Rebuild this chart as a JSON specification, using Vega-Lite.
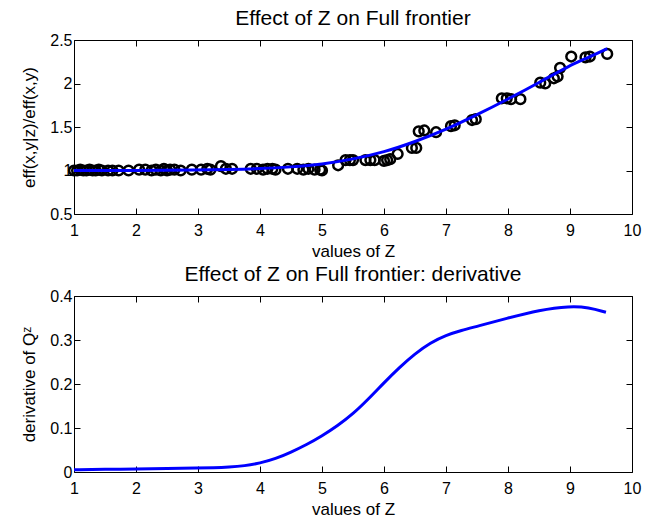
{
  "$schema": "https://vega.github.io/schema/vega-lite/v6.json",
  "background": "white",
  "padding": {"left": 20, "top": 7, "right": 10, "bottom": 2},
  "spacing": 3,
  "config": {
    "font": "Liberation Sans",
    "view": {"stroke": "black", "strokeWidth": 1},
    "axis": {
      "grid": false,
      "domain": false,
      "tickColor": "black",
      "tickSize": -6,
      "labelColor": "black",
      "labelFontSize": 16,
      "labelPadding": 8,
      "labelFlush": false,
      "labelOverlap": false,
      "titleFontSize": 17,
      "titleFontWeight": "normal",
      "titleColor": "black"
    },
    "axisX": {"labelPadding": 14, "titlePadding": 5},
    "axisY": {"titlePadding": 11},
    "title": {"fontSize": 21, "fontWeight": "normal", "color": "black", "offset": 3}
  },
  "datasets": {
    "pts": [
      {"z": 1.0, "eff": 1.0}, {"z": 1.05, "eff": 1.0}, {"z": 1.1, "eff": 1.01}, {"z": 1.15, "eff": 1.0},
      {"z": 1.2, "eff": 1.0}, {"z": 1.25, "eff": 1.01}, {"z": 1.3, "eff": 1.0}, {"z": 1.35, "eff": 1.0},
      {"z": 1.4, "eff": 1.01}, {"z": 1.45, "eff": 1.0}, {"z": 1.55, "eff": 1.0}, {"z": 1.62, "eff": 1.0},
      {"z": 1.72, "eff": 1.0}, {"z": 1.88, "eff": 1.0}, {"z": 2.05, "eff": 1.01}, {"z": 2.15, "eff": 1.01},
      {"z": 2.25, "eff": 1.0}, {"z": 2.32, "eff": 1.01}, {"z": 2.4, "eff": 1.0}, {"z": 2.45, "eff": 1.02},
      {"z": 2.5, "eff": 1.0}, {"z": 2.55, "eff": 1.01}, {"z": 2.62, "eff": 1.01}, {"z": 2.72, "eff": 1.0},
      {"z": 2.9, "eff": 1.01}, {"z": 3.05, "eff": 1.01}, {"z": 3.15, "eff": 1.02}, {"z": 3.2, "eff": 1.01},
      {"z": 3.37, "eff": 1.05}, {"z": 3.45, "eff": 1.02}, {"z": 3.55, "eff": 1.02}, {"z": 3.85, "eff": 1.02},
      {"z": 3.95, "eff": 1.02}, {"z": 4.05, "eff": 1.01}, {"z": 4.12, "eff": 1.02}, {"z": 4.2, "eff": 1.02},
      {"z": 4.25, "eff": 1.01}, {"z": 4.45, "eff": 1.02}, {"z": 4.6, "eff": 1.02}, {"z": 4.7, "eff": 1.01},
      {"z": 4.78, "eff": 1.02}, {"z": 4.88, "eff": 1.01}, {"z": 4.97, "eff": 1.01}, {"z": 5.0, "eff": 1.0},
      {"z": 5.26, "eff": 1.06}, {"z": 5.38, "eff": 1.12}, {"z": 5.45, "eff": 1.12}, {"z": 5.5, "eff": 1.12},
      {"z": 5.7, "eff": 1.12}, {"z": 5.78, "eff": 1.12}, {"z": 5.85, "eff": 1.12}, {"z": 6.0, "eff": 1.11},
      {"z": 6.05, "eff": 1.12}, {"z": 6.1, "eff": 1.13}, {"z": 6.22, "eff": 1.19}, {"z": 6.45, "eff": 1.26},
      {"z": 6.52, "eff": 1.26}, {"z": 6.56, "eff": 1.45}, {"z": 6.65, "eff": 1.46}, {"z": 6.84, "eff": 1.44},
      {"z": 7.08, "eff": 1.51}, {"z": 7.14, "eff": 1.52}, {"z": 7.42, "eff": 1.58}, {"z": 7.48, "eff": 1.59},
      {"z": 7.9, "eff": 1.83}, {"z": 7.98, "eff": 1.83}, {"z": 8.05, "eff": 1.82}, {"z": 8.2, "eff": 1.82},
      {"z": 8.52, "eff": 2.01}, {"z": 8.6, "eff": 2.0}, {"z": 8.74, "eff": 2.06}, {"z": 8.8, "eff": 2.08},
      {"z": 8.84, "eff": 2.18}, {"z": 9.02, "eff": 2.31}, {"z": 9.25, "eff": 2.3}, {"z": 9.32, "eff": 2.31},
      {"z": 9.6, "eff": 2.34}
    ],
    "fit": [
      {"z": 1.0, "eff": 1.0}, {"z": 2.0, "eff": 1.0}, {"z": 3.0, "eff": 1.005}, {"z": 3.5, "eff": 1.01},
      {"z": 4.0, "eff": 1.02}, {"z": 4.5, "eff": 1.04}, {"z": 5.0, "eff": 1.07}, {"z": 5.5, "eff": 1.13},
      {"z": 6.0, "eff": 1.21}, {"z": 6.5, "eff": 1.33}, {"z": 7.0, "eff": 1.47}, {"z": 7.5, "eff": 1.64},
      {"z": 8.0, "eff": 1.82}, {"z": 8.5, "eff": 2.01}, {"z": 9.0, "eff": 2.21}, {"z": 9.3, "eff": 2.3},
      {"z": 9.6, "eff": 2.4}
    ],
    "deriv": [
      {"z": 1.0, "d": 0.005}, {"z": 1.5, "d": 0.006}, {"z": 2.0, "d": 0.007}, {"z": 2.5, "d": 0.008},
      {"z": 3.0, "d": 0.009}, {"z": 3.25, "d": 0.0095}, {"z": 3.5, "d": 0.011}, {"z": 3.75, "d": 0.014},
      {"z": 4.0, "d": 0.02}, {"z": 4.25, "d": 0.03}, {"z": 4.5, "d": 0.045}, {"z": 4.75, "d": 0.062},
      {"z": 5.0, "d": 0.082}, {"z": 5.25, "d": 0.105}, {"z": 5.5, "d": 0.132}, {"z": 5.75, "d": 0.166},
      {"z": 6.0, "d": 0.203}, {"z": 6.25, "d": 0.238}, {"z": 6.5, "d": 0.269}, {"z": 6.75, "d": 0.294},
      {"z": 7.0, "d": 0.311}, {"z": 7.25, "d": 0.322}, {"z": 7.5, "d": 0.331}, {"z": 8.0, "d": 0.35},
      {"z": 8.5, "d": 0.368}, {"z": 9.0, "d": 0.377}, {"z": 9.3, "d": 0.374}, {"z": 9.58, "d": 0.363}
    ]
  },
  "vconcat": [
    {
      "title": "Effect of Z on Full frontier",
      "width": 558,
      "height": 174,
      "resolve": {"axis": {"x": "independent", "y": "independent"}},
      "layer": [
        {
          "data": {"name": "pts"},
          "mark": {"type": "point", "shape": "circle", "filled": false, "stroke": "black", "strokeWidth": 2.5, "size": 95, "opacity": 1},
          "encoding": {
            "x": {"field": "z", "type": "quantitative", "scale": {"domain": [1, 10], "nice": false, "zero": false},
                  "axis": {"values": [1,2,3,4,5,6,7,8,9,10], "title": "values of Z"}},
            "y": {"field": "eff", "type": "quantitative", "scale": {"domain": [0.5, 2.5], "nice": false, "zero": false},
                  "axis": {"values": [0.5,1,1.5,2,2.5], "format": "~g", "title": "eff(x,y|z)/eff(x,y)"}}
          }
        },
        {
          "data": {"name": "fit"},
          "mark": {"type": "line", "color": "#0000ff", "strokeWidth": 3, "interpolate": "basis"},
          "encoding": {
            "x": {"field": "z", "type": "quantitative", "axis": {"orient": "top", "values": [1,2,3,4,5,6,7,8,9,10], "labels": false, "title": null}},
            "y": {"field": "eff", "type": "quantitative", "axis": {"orient": "right", "values": [0.5,1,1.5,2,2.5], "labels": false, "title": null}}
          }
        }
      ]
    },
    {
      "title": "Effect of Z on Full frontier: derivative",
      "width": 558,
      "height": 176,
      "resolve": {"axis": {"x": "independent", "y": "independent"}},
      "layer": [
        {
          "data": {"name": "deriv"},
          "mark": {"type": "line", "color": "#0000ff", "strokeWidth": 3, "interpolate": "basis"},
          "encoding": {
            "x": {"field": "z", "type": "quantitative", "scale": {"domain": [1, 10], "nice": false, "zero": false},
                  "axis": {"values": [1,2,3,4,5,6,7,8,9,10], "title": "values of Z"}},
            "y": {"field": "d", "type": "quantitative", "scale": {"domain": [0, 0.4], "nice": false},
                  "axis": {"values": [0,0.1,0.2,0.3,0.4], "format": "~g", "title": "derivative of Qᶻ"}}
          }
        },
        {
          "data": {"name": "deriv"},
          "mark": {"type": "line", "opacity": 0},
          "encoding": {
            "x": {"field": "z", "type": "quantitative", "axis": {"orient": "top", "values": [1,2,3,4,5,6,7,8,9,10], "labels": false, "title": null}},
            "y": {"field": "d", "type": "quantitative", "axis": {"orient": "right", "values": [0,0.1,0.2,0.3,0.4], "labels": false, "title": null}}
          }
        }
      ]
    }
  ]
}
